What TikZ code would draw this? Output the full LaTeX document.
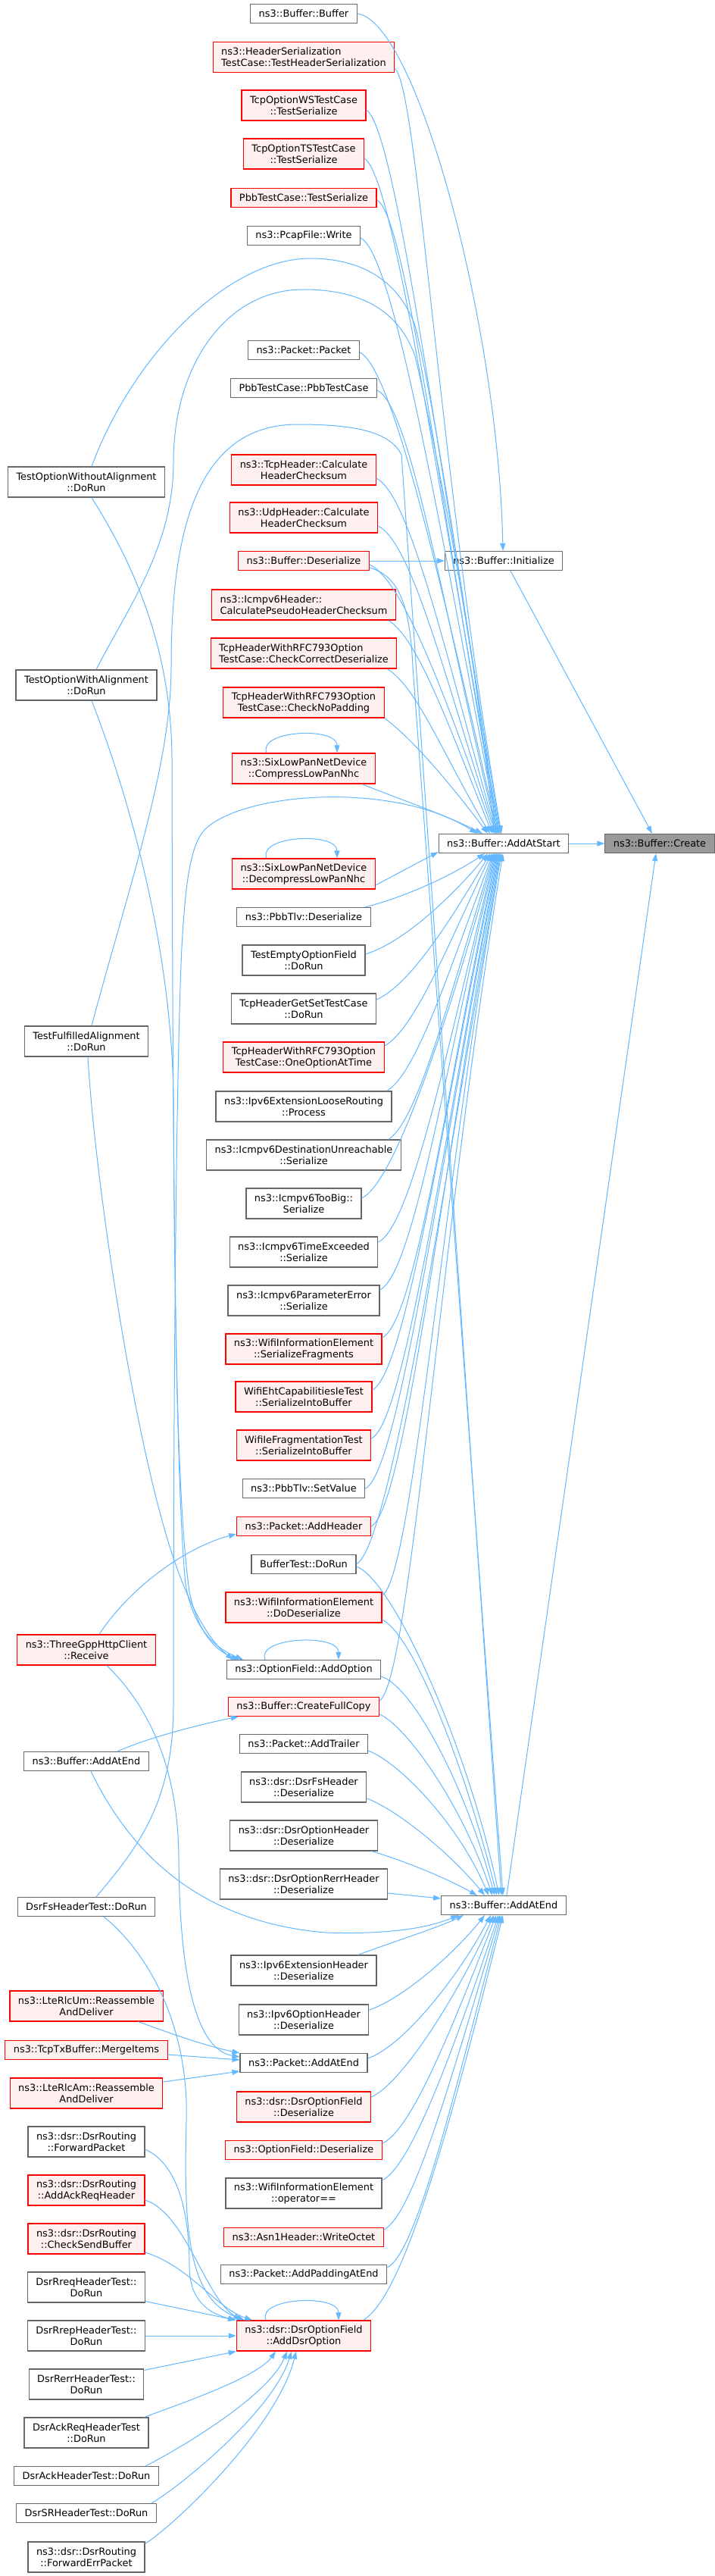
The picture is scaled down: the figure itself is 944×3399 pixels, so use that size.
\documentclass[tikz,border=0pt]{standalone}
\usepackage{fontspec}
\newfontfamily\dvs{DejaVu Sans}
\usetikzlibrary{arrows.meta}
\definecolor{edgec}{HTML}{63B8FF}
\definecolor{redfill}{HTML}{FFF0F0}
\definecolor{nodegray}{HTML}{666666}
\definecolor{rootfill}{HTML}{999999}
\begin{document}
\begin{tikzpicture}[x=1pt,y=-1pt,
 nb/.style={draw=nodegray, fill=white, line width=1.2pt, font=\dvs\fontsize{12.9}{15}\selectfont, inner xsep=11pt, inner ysep=1pt, minimum height=25pt, align=center},
 two/.style={minimum height=40pt},
 rn/.style={nb, draw=red, fill=redfill},
 root/.style={nb, fill=rootfill},
 edge/.style={draw=edgec, line width=1pt, -{Triangle[length=10pt,width=7pt]}},
]
\useasboundingbox (0,0) rectangle (944,3399);
\fill[white] (0,0) rectangle (944,3399);

% ---------- right column
\node[nb] (Init) at (665,740) {ns3::Buffer::Initialize};
\node[nb] (AS) at (665,1113) {ns3::Buffer::AddAtStart};
\node[nb] (AE) at (665,2514) {ns3::Buffer::AddAtEnd};
\node[root] (Create) at (871,1113) {ns3::Buffer::Create};

% ---------- middle column
\node[nb] (m1) at (401,18) {ns3::Buffer::Buffer};
\node[rn,two,align=left] (m2) at (401,75.5) {ns3::HeaderSerialization\\TestCase::TestHeaderSerialization};
\node[rn,two] (m3) at (401,139) {TcpOptionWSTestCase\\::TestSerialize};
\node[rn,two] (m4) at (401,203) {TcpOptionTSTestCase\\::TestSerialize};
\node[rn] (m5) at (401,261) {PbbTestCase::TestSerialize};
\node[nb] (m6) at (401,311) {ns3::PcapFile::Write};
\node[nb] (m7) at (401,462) {ns3::Packet::Packet};
\node[nb] (m8) at (401,512) {PbbTestCase::PbbTestCase};
\node[rn,two] (m9) at (401,620) {ns3::TcpHeader::Calculate\\HeaderChecksum};
\node[rn,two] (m10) at (401,683) {ns3::UdpHeader::Calculate\\HeaderChecksum};
\node[rn] (m11) at (401,740) {ns3::Buffer::Deserialize};
\node[rn,two,align=left] (m12) at (401,798) {ns3::Icmpv6Header::\\CalculatePseudoHeaderChecksum};
\node[rn,two,align=left] (m13) at (401,862) {TcpHeaderWithRFC793Option\\TestCase::CheckCorrectDeserialize};
\node[rn,two] (m14) at (401,927) {TcpHeaderWithRFC793Option\\TestCase::CheckNoPadding};
\node[rn,two] (m15) at (401,1014) {ns3::SixLowPanNetDevice\\::CompressLowPanNhc};
\node[rn,two] (m16) at (401,1153) {ns3::SixLowPanNetDevice\\::DecompressLowPanNhc};
\node[nb] (m17) at (401,1210) {ns3::PbbTlv::Deserialize};
\node[nb,two] (m18) at (401,1267) {TestEmptyOptionField\\::DoRun};
\node[nb,two] (m19) at (401,1331) {TcpHeaderGetSetTestCase\\::DoRun};
\node[rn,two] (m20) at (401,1395) {TcpHeaderWithRFC793Option\\TestCase::OneOptionAtTime};
\node[nb,two] (m21) at (401,1460) {ns3::Ipv6ExtensionLooseRouting\\::Process};
\node[nb,two] (m22) at (401,1524) {ns3::Icmpv6DestinationUnreachable\\::Serialize};
\node[nb,two] (m23) at (401,1588) {ns3::Icmpv6TooBig::\\Serialize};
\node[nb,two] (m24) at (401,1652) {ns3::Icmpv6TimeExceeded\\::Serialize};
\node[nb,two] (m25) at (401,1716) {ns3::Icmpv6ParameterError\\::Serialize};
\node[rn,two] (m26) at (401,1780) {ns3::WifiInformationElement\\::SerializeFragments};
\node[rn,two] (m27) at (401,1843) {WifiEhtCapabilitiesIeTest\\::SerializeIntoBuffer};
\node[rn,two] (m28) at (401,1907) {WifiIeFragmentationTest\\::SerializeIntoBuffer};
\node[nb] (m29) at (401,1964) {ns3::PbbTlv::SetValue};
\node[rn] (m30) at (401,2014) {ns3::Packet::AddHeader};
\node[nb] (m31) at (401,2064) {BufferTest::DoRun};
\node[rn,two] (m32) at (401,2121) {ns3::WifiInformationElement\\::DoDeserialize};
\node[nb] (m33) at (401,2203) {ns3::OptionField::AddOption};
\node[rn] (m34) at (401,2252) {ns3::Buffer::CreateFullCopy};
\node[nb] (m35) at (401,2301) {ns3::Packet::AddTrailer};
\node[nb,two] (m36) at (401,2358) {ns3::dsr::DsrFsHeader\\::Deserialize};
\node[nb,two] (m37) at (401,2422) {ns3::dsr::DsrOptionHeader\\::Deserialize};
\node[nb,two] (m38) at (401,2486) {ns3::dsr::DsrOptionRerrHeader\\::Deserialize};
\node[nb,two] (m39) at (401,2600) {ns3::Ipv6ExtensionHeader\\::Deserialize};
\node[nb,two] (m40) at (401,2665) {ns3::Ipv6OptionHeader\\::Deserialize};
\node[nb] (m41) at (401,2722) {ns3::Packet::AddAtEnd};
\node[rn,two] (m42) at (401,2780) {ns3::dsr::DsrOptionField\\::Deserialize};
\node[rn] (m43) at (401,2837) {ns3::OptionField::Deserialize};
\node[nb,two] (m44) at (401,2894) {ns3::WifiInformationElement\\::operator==};
\node[rn] (m45) at (401,2952) {ns3::Asn1Header::WriteOctet};
\node[nb] (m46) at (401,3001) {ns3::Packet::AddPaddingAtEnd};
\node[rn,two] (m47) at (401,3082) {ns3::dsr::DsrOptionField\\::AddDsrOption};

% ---------- left column
\node[nb,two] (TOWoA) at (114,636) {TestOptionWithoutAlignment\\::DoRun};
\node[nb,two] (TOWA) at (114,904) {TestOptionWithAlignment\\::DoRun};
\node[nb,two] (TFA) at (114,1374) {TestFulfilledAlignment\\::DoRun};
\node[rn,two] (TGHC) at (114,2177) {ns3::ThreeGppHttpClient\\::Receive};
\node[nb] (BAE) at (114,2324) {ns3::Buffer::AddAtEnd};
\node[nb] (DFHT) at (114,2516) {DsrFsHeaderTest::DoRun};
\node[rn,two] (LUm) at (114,2647) {ns3::LteRlcUm::Reassemble\\AndDeliver};
\node[rn] (TTB) at (114,2705) {ns3::TcpTxBuffer::MergeItems};
\node[rn,two] (LAm) at (114,2762) {ns3::LteRlcAm::Reassemble\\AndDeliver};
\node[nb,two] (FP) at (114,2826) {ns3::dsr::DsrRouting\\::ForwardPacket};
\node[rn,two] (AARH) at (114,2890) {ns3::dsr::DsrRouting\\::AddAckReqHeader};
\node[rn,two] (CSB) at (114,2954) {ns3::dsr::DsrRouting\\::CheckSendBuffer};
\node[nb,two] (Rreq) at (114,3018) {DsrRreqHeaderTest::\\DoRun};
\node[nb,two] (Rrep) at (114,3082) {DsrRrepHeaderTest::\\DoRun};
\node[nb,two] (Rerr) at (114,3146) {DsrRerrHeaderTest::\\DoRun};
\node[nb,two] (AckReq) at (114,3210) {DsrAckReqHeaderTest\\::DoRun};
\node[nb] (Ack) at (114,3267) {DsrAckHeaderTest::DoRun};
\node[nb] (SR) at (114,3316) {DsrSRHeaderTest::DoRun};
\node[nb,two] (FEP) at (114,3374) {ns3::dsr::DsrRouting\\::ForwardErrPacket};

% ---------- edges to Create
\draw[edge] (AS.east) -- (Create.west);
\draw[edge] ([xshift=9pt]Init.south) -- ([xshift=-10pt]Create.north);
\draw[edge] ([xshift=4pt]AE.north) -- ([xshift=-5pt]Create.south);

% ---------- edges to Initialize
\draw[edge] (m1.east) .. controls (550,28) and (658,430) .. ([xshift=-1pt]Init.north);
\draw[edge] (m11.east) -- (Init.west);

% ---------- edges to AddAtStart from above
\draw[edge] ([yshift=-15pt]m2.east) .. controls +(30,25) and +(-85,-500) .. ([xshift=-3pt]AS.north);
\draw[edge] ([yshift=-6pt]m3.east) .. controls +(40,25) and +(-80,-470) .. ([xshift=-4pt]AS.north);
\draw[edge] ([yshift=-6pt]m4.east) .. controls +(40,25) and +(-80,-440) .. ([xshift=-5pt]AS.north);
\draw[edge] ([yshift=-3pt]m5.east) .. controls +(40,22) and +(-75,-410) .. ([xshift=-6pt]AS.north);
\draw[edge] ([yshift=-3pt]m6.east) .. controls +(45,22) and +(-75,-390) .. ([xshift=-7pt]AS.north);
\draw[edge] ([yshift=-3pt]m7.east) .. controls +(45,22) and +(-70,-310) .. ([xshift=-8pt]AS.north);
\draw[edge] ([yshift=-3pt]m8.east) .. controls +(45,22) and +(-70,-290) .. ([xshift=-9pt]AS.north);
\draw[edge] ([yshift=-11pt]m9.east) .. controls +(45,22) and +(-65,-230) .. ([xshift=-10pt]AS.north);
\draw[edge] ([yshift=-11pt]m10.east) .. controls +(45,22) and +(-65,-200) .. ([xshift=-11pt]AS.north);
\draw[edge] ([yshift=-5pt]m11.east) .. controls +(45,20) and +(-60,-170) .. ([xshift=-13pt]AS.north);
\draw[edge] ([xshift=-10pt]m12.south east) .. controls +(40,25) and +(-55,-135) .. ([xshift=-15pt]AS.north);
\draw[edge] ([xshift=-13pt]m13.south east) .. controls +(40,25) and +(-60,-100) .. ([xshift=-18pt]AS.north);
\draw[edge] (m14.south east) .. controls +(40,30) and +(-45,-60) .. ([xshift=-21pt]AS.north);
\draw[edge] ([xshift=-18pt]m15.south east) .. controls +(50,20) and +(-50,-25) .. ([xshift=-28pt]AS.north);
% arcs from left column
\draw[edge] ([xshift=7pt]TOWoA.north) .. controls (175,470) and (300,341) .. (410,341) .. controls (470,341) and (525,365) .. (548,430) .. controls (566,495) and (625,850) .. ([xshift=-12pt]AS.north);
\draw[edge] ([xshift=13pt]TOWA.north) .. controls (170,800) and (229,720) .. (229,610) .. controls (229,480) and (300,382) .. (400,382) .. controls (470,382) and (525,405) .. (548,470) .. controls (563,530) and (628,850) .. ([xshift=-10pt]AS.north);
\draw[edge] ([xshift=13pt]DFHT.north) .. controls (180,2440) and (229,2380) .. (229,2250) .. controls (229,1800) and (233,1400) .. (240,1250) .. controls (245,1160) and (252,1115) .. (270,1095) .. controls (320,1045) and (520,1030) .. ([xshift=-35pt]AS.north);
% from left
\draw[edge] ([yshift=-15pt]m16.east) -- ([yshift=2pt]AS.south west);
% ---------- edges to AddAtStart from below
\draw[edge] ([xshift=-8pt]m17.north east) .. controls +(50,-12) and +(-45,30) .. ([xshift=-25pt]AS.south);
\draw[edge] ([yshift=8pt]m18.east) .. controls +(50,-15) and +(-45,55) .. ([xshift=-21pt]AS.south);
\draw[edge] ([yshift=12pt]m19.east) .. controls +(45,-20) and +(-50,85) .. ([xshift=-18pt]AS.south);
\draw[edge] ([yshift=15pt]m20.east) .. controls +(40,-22) and +(-55,115) .. ([xshift=-16pt]AS.south);
\draw[edge] ([xshift=-7pt]m21.north east) .. controls +(40,-22) and +(-55,145) .. ([xshift=-14pt]AS.south);
\draw[edge] ([xshift=-17pt]m22.north east) .. controls +(40,-25) and +(-55,175) .. ([xshift=-13pt]AS.south);
\draw[edge] ([yshift=7pt]m23.east) .. controls +(45,-22) and +(-60,215) .. ([xshift=-12pt]AS.south);
\draw[edge] ([yshift=13pt]m24.east) .. controls +(45,-22) and +(-60,240) .. ([xshift=-11pt]AS.south);
\draw[edge] ([yshift=14pt]m25.east) .. controls +(45,-22) and +(-65,270) .. ([xshift=-10pt]AS.south);
\draw[edge] ([yshift=15pt]m26.east) .. controls +(45,-22) and +(-65,300) .. ([xshift=-9pt]AS.south);
\draw[edge] ([yshift=9pt]m27.east) .. controls +(45,-22) and +(-70,330) .. ([xshift=-8pt]AS.south);
\draw[edge] ([yshift=9pt]m28.east) .. controls +(45,-22) and +(-70,360) .. ([xshift=-7pt]AS.south);
\draw[edge] (m29.east) .. controls +(45,-22) and +(-75,390) .. ([xshift=-6pt]AS.south);
\draw[edge] (m30.east) .. controls +(45,-22) and +(-75,410) .. ([xshift=-5pt]AS.south);
\draw[edge] (m31.east) .. controls +(45,-25) and +(-75,440) .. ([xshift=-4pt]AS.south);
\draw[edge] ([yshift=16pt]m32.east) .. controls +(40,-25) and +(-80,460) .. ([xshift=-3pt]AS.south);
\draw[edge] ([yshift=8pt]m34.east) .. controls +(40,-25) and +(-85,520) .. ([xshift=-1pt]AS.south);

% ---------- edges to AddAtEnd from above
\draw[edge] ([xshift=7pt]TFA.north) .. controls (170,1170) and (226,1010) .. (226,880) .. controls (226,700) and (260,560) .. (393,560) .. controls (470,560) and (515,570) .. (530,600) -- ([xshift=-3pt]AE.north);
\draw[edge] ([yshift=-9pt]m11.east) .. controls +(35,10) and (541,790) .. (545,880) -- ([xshift=-1pt]AE.north);
\draw[edge] ([yshift=-3pt]m31.east) .. controls +(45,15) and +(-45,-210) .. ([xshift=-6pt]AE.north);
\draw[edge] ([yshift=-16pt]m32.east) .. controls +(40,20) and +(-45,-180) .. ([xshift=-9pt]AE.north);
\draw[edge] ([yshift=-9pt]m33.east) .. controls +(40,12) and +(-40,-150) .. ([xshift=-12pt]AE.north);
\draw[edge] ([yshift=-10pt]m34.east) .. controls +(35,15) and +(-40,-120) .. ([xshift=-15pt]AE.north);
\draw[edge] ([yshift=-9pt]m35.east) .. controls +(40,15) and +(-40,-95) .. ([xshift=-20pt]AE.north);
\draw[edge] ([yshift=-15pt]m36.east) .. controls +(40,15) and +(-45,-55) .. ([xshift=-25pt]AE.north);
\draw[edge] ([xshift=-8pt]m37.south east) .. controls +(40,12) and +(-45,-25) .. ([xshift=-35pt]AE.north);
\draw[edge] ([yshift=-12pt]m38.east) -- ([yshift=9pt]AE.west);
% ---------- edges to AddAtEnd from below
\draw[edge] ([xshift=6pt]BAE.south) .. controls (165,2430) and (250,2535) .. (430,2550) .. controls (520,2553) and (570,2542) .. ([xshift=-60pt]AE.south);
\draw[edge] ([xshift=-25pt]m39.north east) .. controls +(40,-15) and +(-30,15) .. ([xshift=-53pt]AE.south);
\draw[edge] ([yshift=13pt]m40.east) .. controls +(45,-15) and +(-40,50) .. ([xshift=-25pt]AE.south);
\draw[edge] ([yshift=6pt]m41.east) .. controls +(45,-15) and +(-45,85) .. ([xshift=-17pt]AE.south);
\draw[edge] ([yshift=13pt]m42.east) .. controls +(40,-18) and +(-50,110) .. ([xshift=-13pt]AE.south);
\draw[edge] ([yshift=9pt]m43.east) .. controls +(40,-18) and +(-55,140) .. ([xshift=-10pt]AE.south);
\draw[edge] ([yshift=17pt]m44.east) .. controls +(40,-20) and +(-55,165) .. ([xshift=-7pt]AE.south);
\draw[edge] ([yshift=10pt]m45.east) .. controls +(40,-20) and +(-60,200) .. ([xshift=-5pt]AE.south);
\draw[edge] ([yshift=9pt]m46.east) .. controls +(40,-20) and +(-60,225) .. ([xshift=-3pt]AE.south);
\draw[edge] ([xshift=-11pt]m47.north east) .. controls +(55,-30) and +(-65,260) .. ([xshift=-1pt]AE.south);

% ---------- edges to OptionField::AddOption
\draw[edge] ([xshift=7pt]TOWoA.south) .. controls (180,750) and (226,860) .. (227,1000) .. controls (228,1500) and (231,1950) .. (245,2090) .. controls (255,2150) and (285,2175) .. ([xshift=-80pt]m33.north);
\draw[edge] ([xshift=7pt]TOWA.south) .. controls (170,1050) and (227,1250) .. (229,1450) .. controls (231,1800) and (236,2000) .. (250,2100) .. controls (262,2160) and (290,2180) .. ([xshift=-86pt]m33.north);
\draw[edge] ([xshift=2pt]TFA.south) .. controls (125,1550) and (170,1850) .. (215,2010) .. controls (240,2100) and (270,2160) .. ([xshift=-93pt]m33.north);

% ---------- other left-to-middle edges
\draw[edge] ([xshift=17pt]TGHC.north) .. controls (175,2090) and (250,2040) .. ([yshift=3pt]m30.south west);
\draw[edge] ([xshift=27pt]TGHC.south) .. controls (195,2250) and (235,2330) .. (236,2450) .. controls (237,2620) and (262,2705) .. ([yshift=8pt]m41.west);
\draw[edge] ([xshift=41pt]BAE.north) .. controls (195,2293) and (265,2275) .. ([xshift=14pt]m34.south west);
\draw[edge] ([xshift=69pt]LUm.south) .. controls +(40,15) and +(-40,-8) .. (m41.north west);
\draw[edge] ([yshift=-6pt]TTB.east) -- ([yshift=4pt]m41.west);
\draw[edge] ([yshift=15pt]LAm.east) -- ([yshift=-11pt]m41.west);

% ---------- edges to AddDsrOption
\draw[edge] ([xshift=23pt]DFHT.south) .. controls (200,2580) and (250,2680) .. (246,2800) .. controls (242,2950) and (250,3035) .. ([xshift=-78pt]m47.north);
\draw[edge] ([yshift=-10pt]FP.east) .. controls (235,2855) and (250,2920) .. (250,2990) .. controls (250,3035) and (275,3052) .. ([xshift=-90pt]m47.north);
\draw[edge] ([yshift=-13pt]AARH.east) .. controls (245,2920) and (270,3030) .. ([xshift=-83pt]m47.north);
\draw[edge] ([yshift=-18pt]CSB.east) .. controls (250,2990) and (285,3045) .. ([xshift=-68pt]m47.north);
\draw[edge] ([yshift=2pt]Rreq.south east) -- (m47.north west);
\draw[edge] (Rrep.east) -- (m47.west);
\draw[edge] ([yshift=-2pt]Rerr.north east) -- (m47.south west);
\draw[edge] ([xshift=-6pt]AckReq.north east) .. controls +(40,-15) and +(-25,35) .. ([xshift=-37pt]m47.south);
\draw[edge] ([xshift=-18pt]Ack.north east) .. controls +(40,-20) and +(-25,60) .. ([xshift=-22pt]m47.south);
\draw[edge] ([xshift=-7pt]SR.north east) .. controls +(35,-20) and +(-25,80) .. ([xshift=-16pt]m47.south);
\draw[edge] ([yshift=-3pt]FEP.north east) .. controls +(40,-25) and +(-25,100) .. ([xshift=-10pt]m47.south);

% ---------- self loops
\draw[edge] ([xshift=-49pt]m15.north) .. controls +(-12,-30) and +(0,-35) .. ([xshift=44pt]m15.north);
\draw[edge] ([xshift=-49pt]m16.north) .. controls +(-12,-30) and +(0,-35) .. ([xshift=44pt]m16.north);
\draw[edge] ([xshift=-51pt]m33.north) .. controls +(-12,-30) and +(0,-35) .. ([xshift=46pt]m33.north);
\draw[edge] ([xshift=-50pt]m47.north) .. controls +(-12,-30) and +(0,-35) .. ([xshift=46pt]m47.north);
\end{tikzpicture}
\end{document}
